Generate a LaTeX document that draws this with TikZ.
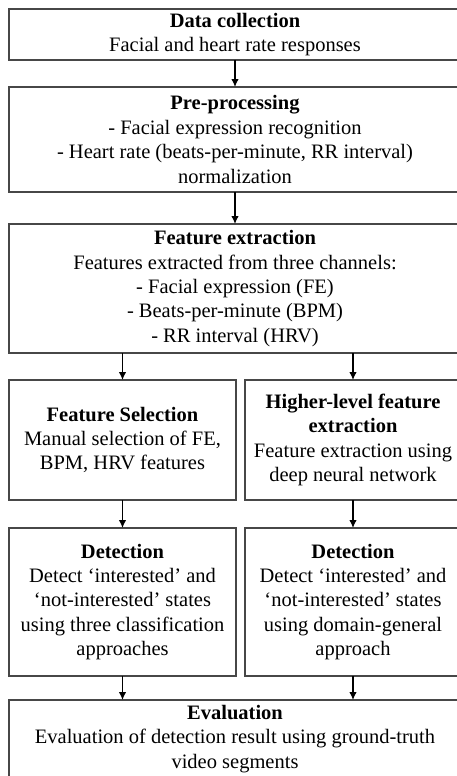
\documentclass[tikz,border=0pt]{standalone}
\usepackage{fontspec}
\setmainfont{Liberation Serif}
\usetikzlibrary{arrows.meta}
\begin{document}
\begin{tikzpicture}[x=1pt,y=1pt,
  box/.style={draw=black!72,line width=1.3pt,fill=white,inner sep=0pt,outer sep=0pt,align=center,
    font={\fontsize{20.5}{24.4}\selectfont}},
  txt/.style={inner sep=0pt,align=center,font={\fontsize{20.5}{24.4}\selectfont}},
  arr/.style={line width=1.3pt,draw=black,-{Latex[length=8pt,width=7.5pt]}}]
\useasboundingbox (0,0) rectangle (457,-776);
\clip (0,0) rectangle (457,-776);
\fill[white] (0,0) rectangle (457,-776);
\node[box,minimum width=452pt,minimum height=51pt] (dc) at (235,-34.5)
  {\textbf{Data collection}\\Facial and heart rate responses};
\node[box,minimum width=452pt,minimum height=105pt] (pp) at (235,-139.5)
  {\textbf{Pre-processing}\\- Facial expression recognition\\- Heart rate (beats-per-minute, RR interval)\\normalization};
\node[box,minimum width=452pt,minimum height=129pt] (fe) at (235,-288.5)
  {\textbf{Feature extraction}\\Features extracted from three channels:\\- Facial expression (FE)\\- Beats-per-minute (BPM)\\- RR interval (HRV)};
\node[box,minimum width=227pt,minimum height=120pt] (fs) at (122.5,-440)
  {\textbf{Feature Selection}\\Manual selection of FE,\\BPM, HRV features};
\node[box,minimum width=216pt,minimum height=120pt] (hl) at (353,-440)
  {\textbf{Higher-level feature}\\\textbf{extraction}\\Feature extraction using\\deep neural network};
\node[box,minimum width=227pt,minimum height=148pt] (d1) at (122.5,-602)
  {\textbf{Detection}\\Detect ‘interested’ and\\‘not-interested’ states\\using three classification\\approaches};
\node[box,minimum width=216pt,minimum height=148pt] (d2) at (353,-602)
  {\textbf{Detection}\\Detect ‘interested’ and\\‘not-interested’ states\\using domain-general\\approach};
\node[box,minimum width=452pt,minimum height=100pt] (ev) at (235,-750) {};
\node[txt,anchor=north] (evt) at (235,-705)
  {\textbf{Evaluation}\\Evaluation of detection result using ground-truth\\video segments};
\draw[arr] (dc.south) -- (pp.north);
\draw[arr] (pp.south) -- (fe.north);
\draw[arr] (fs.north |- fe.south) -- (fs.north);
\draw[arr] (hl.north |- fe.south) -- (hl.north);
\draw[arr] (fs.south) -- (d1.north);
\draw[arr] (hl.south) -- (d2.north);
\draw[arr] (d1.south) -- (d1.south |- ev.north);
\draw[arr] (d2.south) -- (d2.south |- ev.north);
\end{tikzpicture}
\end{document}
